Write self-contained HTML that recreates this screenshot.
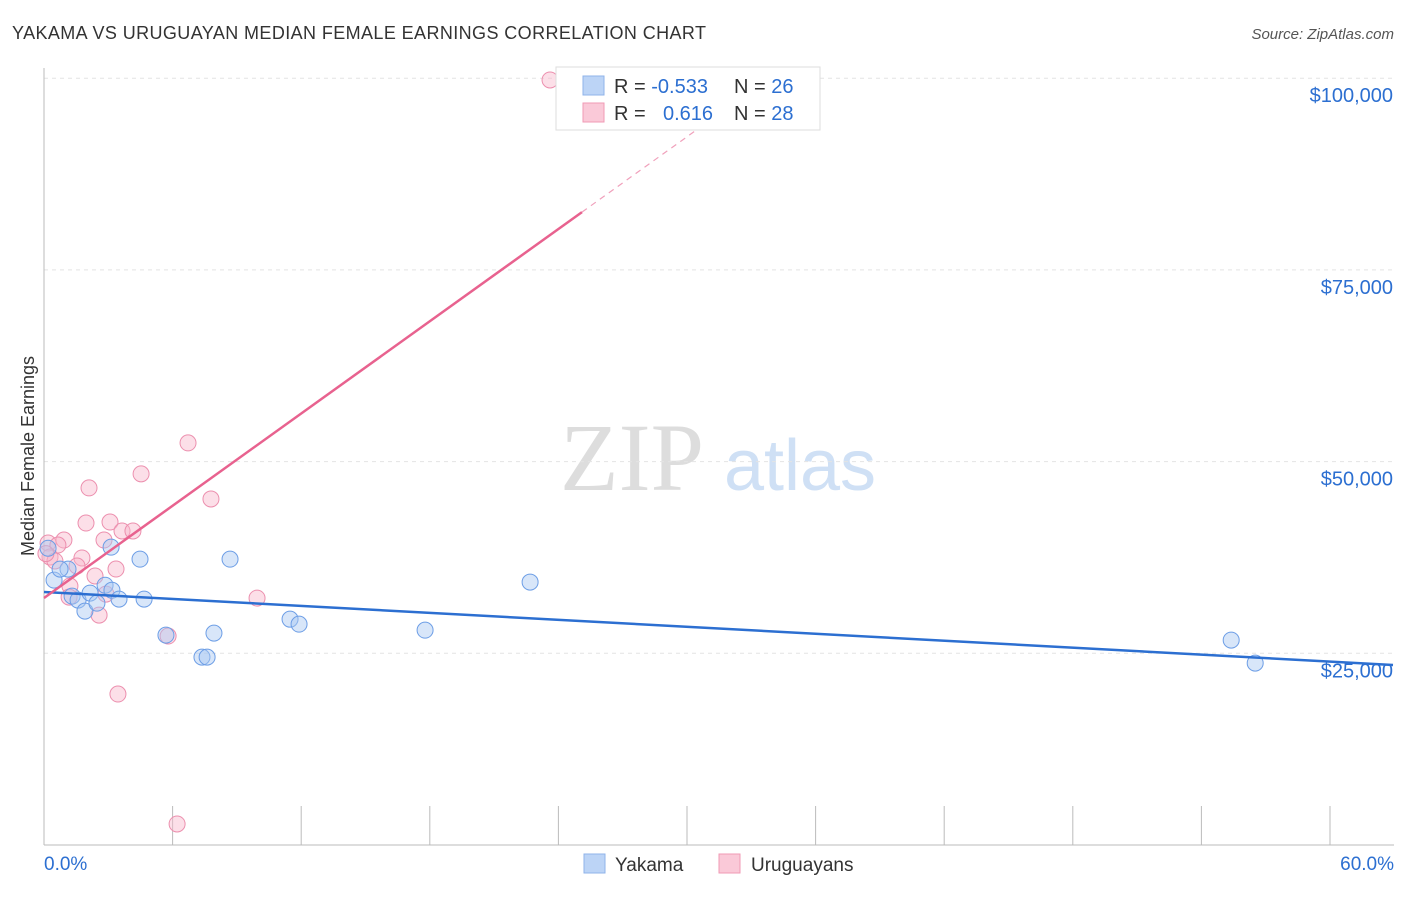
<!DOCTYPE html>
<html><head><meta charset="utf-8"><style>
body{margin:0;background:#fff;font-family:"Liberation Sans",sans-serif}
</style></head><body>
<svg id="c" width="1406" height="892" xmlns="http://www.w3.org/2000/svg" font-family="Liberation Sans, sans-serif">
<text x="12" y="39" font-size="18" fill="#333" textLength="694">YAKAMA VS URUGUAYAN MEDIAN FEMALE EARNINGS CORRELATION CHART</text>
<text x="1394" y="39" font-size="15" fill="#555" text-anchor="end" font-style="italic">Source: ZipAtlas.com</text>
<text x="632" y="490" font-size="96" fill="#ddd" font-family="Liberation Serif, serif" text-anchor="middle">ZIP</text>
<text x="800" y="490" font-size="72" fill="#cfe0f5" text-anchor="middle">atlas</text>
<text transform="translate(34,456) rotate(-90)" font-size="18" fill="#333" text-anchor="middle">Median Female Earnings</text>
<g id="grid"></g><g id="marks"></g>
<g>
<rect x="556" y="67" width="264" height="63" fill="#fff" stroke="#ddd"/>
<rect x="583" y="76" width="21" height="19" fill="#bcd4f6" stroke="#8fb3ea"/>
<rect x="583" y="103" width="21" height="19" fill="#fac9d8" stroke="#f09ab5"/>
<text x="614" y="93" font-size="20" fill="#333">R = <tspan fill="#2c6fd1">-0.533</tspan></text>
<text x="734" y="93" font-size="20" fill="#333">N = <tspan fill="#2c6fd1">26</tspan></text>
<text x="614" y="120" font-size="20" fill="#333">R = <tspan x="663" fill="#2c6fd1">0.616</tspan></text>
<text x="734" y="120" font-size="20" fill="#333">N = <tspan fill="#2c6fd1">28</tspan></text>
</g>
<g>
<rect x="584" y="854" width="21" height="19" fill="#bcd4f6" stroke="#8fb3ea"/>
<text x="615" y="871" font-size="19" fill="#333">Yakama</text>
<rect x="719" y="854" width="21" height="19" fill="#fac9d8" stroke="#f09ab5"/>
<text x="751" y="871" font-size="19" fill="#333">Uruguayans</text>
</g>
</svg>
<script>
const yTicks=[25000,50000,75000,100000];
const yTickLabels=["$25,000","$50,000","$75,000","$100,000"];
const xTicks=[0,6,12,18,24,30,36,42,48,54,60];
const yakamaX=[0.47,1.12,1.31,1.59,1.91,2.15,2.47,2.85,3.17,3.13,3.5,4.48,4.67,5.69,7.37,7.61,7.93,8.68,11.48,11.9,17.78,22.68,55.39,56.51,0.19,0.75];
const yakamaY=[34550,35980,32460,31940,30500,32850,31540,33880,33230,38840,32070,37280,32070,27370,24500,24500,27630,37280,29450,28800,28020,34290,26720,23720,38700,35980];
const uruX=[23.61,6.72,4.53,2.1,7.79,1.96,3.08,3.64,4.15,0.93,0.19,0.65,2.8,0.28,0.51,1.77,1.54,2.38,3.36,1.21,1.17,2.89,2.57,5.79,9.94,3.45,6.21,0.09];
const uruY=[99770,52440,48400,46570,45130,41990,42120,40950,40950,39770,39380,39120,39770,37560,37040,37430,36390,35080,35990,33770,32330,32720,29980,27250,32200,19690,2740,38000];
const trendBlue=[32995,-151.3,0,62.94];
const trendPink=[32212,2005,0,25.1,31.5];
const X=v=>44+v/60*1286, Y=v=>845-v/25000*191.7;
const NS="http://www.w3.org/2000/svg";
function mk(t,a,p){const e=document.createElementNS(NS,t);for(const k in a)e.setAttribute(k,a[k]);p.appendChild(e);return e;}
const g=document.getElementById('grid'),m=document.getElementById('marks');
yTicks.forEach((v,i)=>{
 const l=mk('line',{x1:44,x2:1394,y1:Y(v),y2:Y(v),stroke:'#e4e4e4','stroke-dasharray':'4,4'},g);
 
 
 const t=mk('text',{x:1393,y:Y(v)+24,'font-size':20,fill:'#2c6fd1','text-anchor':'end'},g);
 t.textContent=yTickLabels[i];
 
 
});
const ax=mk('line',{x1:44,x2:44,y1:68,y2:845,stroke:'#bbb'},g);


const bx=mk('line',{x1:44,x2:1394,y1:845,y2:845,stroke:'#bbb'},g);


xTicks.forEach(v=>{
 const l=mk('line',{x1:X(v),x2:X(v),y1:806,y2:845,stroke:'#bbb'},g);
 
 
});
[[0,"0.0%",'start',44],[60,"60.0%",'end',1394]].forEach(d=>{
 const t=mk('text',{x:d[3],y:870,'font-size':19,fill:'#2c6fd1','text-anchor':d[2]},g);
 t.textContent=d[1];
 
 
});
function pts(xs,ys,fill,stroke,name){xs.forEach((x,i)=>{
 const c=mk('circle',{cx:X(x),cy:Y(ys[i]),r:8,fill:fill,'fill-opacity':0.45,stroke:stroke,'stroke-width':1},m);
 
 
});}
pts(uruX,uruY,'#f8b9cd','#ec8fae','uruguayan-point');
pts(yakamaX,yakamaY,'#a9c7f2','#6d9ee6','yakama-point');
const tb=mk('line',{x1:X(trendBlue[2]),y1:Y(trendBlue[0]+trendBlue[1]*trendBlue[2]),x2:X(trendBlue[3]),y2:Y(trendBlue[0]+trendBlue[1]*trendBlue[3]),stroke:'#2c6fd1','stroke-width':2.5},m);


const tp=mk('line',{x1:X(trendPink[2]),y1:Y(trendPink[0]+trendPink[1]*trendPink[2]),x2:X(trendPink[3]),y2:Y(trendPink[0]+trendPink[1]*trendPink[3]),stroke:'#e8628f','stroke-width':2.5},m);


const td=mk('line',{x1:X(trendPink[3]),y1:Y(trendPink[0]+trendPink[1]*trendPink[3]),x2:X(trendPink[4]),y2:Y(trendPink[0]+trendPink[1]*trendPink[4]),stroke:'#f0a0bb','stroke-width':1.2,'stroke-dasharray':'6,5'},m);


</script>
</body></html>
